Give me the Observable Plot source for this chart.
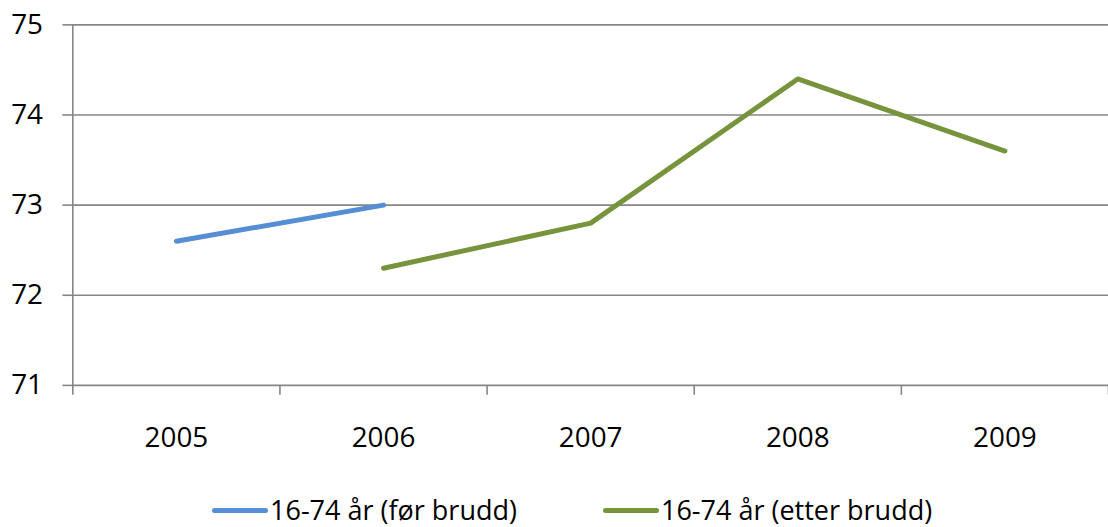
<!DOCTYPE html>
<html>
<head>
<meta charset="utf-8">
<script src="https://cdn.jsdelivr.net/npm/d3@7"></script>
<script src="https://cdn.jsdelivr.net/npm/@observablehq/plot@0.6"></script>
<style>
  html, body { margin: 0; padding: 0; background: #fff; }
  #wrap { width: 1108px; height: 527px; overflow: hidden; position: relative; font-family: "Open Sans", sans-serif; }
  #legend { position: absolute; left: 212px; top: 492px; display: flex; align-items: center; font-size: 27px; line-height: 36px; color: #000; }
  .item { display: flex; align-items: center; }
  .sw { width: 56px; height: 5px; border-radius: 3px; margin-right: 2px; }
</style>
</head>
<body>
<div id="wrap"><div id="chart"></div><div id="legend"></div></div>
<script>
const years = [2005, 2006, 2007, 2008, 2009];
const seriesNames = ["16-74 år (før brudd)", "16-74 år (etter brudd)"];
const seriesColors = ["#558ED5", "#77933C"];
const beforeYears = [2005, 2006];
const beforeValues = [72.6, 73.0];
const afterYears = [2006, 2007, 2008, 2009];
const afterValues = [72.3, 72.8, 74.4, 73.6];
const yTicks = [71, 72, 73, 74, 75];

const before = beforeYears.map((y, i) => ({year: y, value: beforeValues[i]}));
const after = afterYears.map((y, i) => ({year: y, value: afterValues[i]}));
const bounds = years.map(y => y - 0.5).concat([years[years.length - 1] + 0.5]);

const grid = "#868686";
const chart = Plot.plot({
  width: 1114,
  height: 470,
  marginLeft: 72.7,
  marginRight: 0,
  marginTop: 24.5,
  marginBottom: 83,
  style: {fontFamily: "Open Sans, sans-serif", fontSize: "28px", color: "#000", overflow: "visible"},
  x: {type: "linear", domain: [bounds[0], bounds[bounds.length - 1]], label: null},
  y: {domain: [71, 75], label: null},
  marks: [
    Plot.ruleY(yTicks, {x1: bounds[0], x2: bounds[bounds.length - 1], stroke: grid, strokeWidth: 1.6}),
    Plot.axisY({ticks: yTicks, tickSize: 10, tickPadding: 20, stroke: grid, strokeWidth: 1.6, tickFormat: d => String(d), fill: "#000", fontSize: 28, label: null}),
    Plot.ruleX([bounds[0]], {y1: 71, y2: 75, stroke: grid, strokeWidth: 1.6}),
    Plot.axisX({ticks: bounds, tickSize: 10, stroke: grid, strokeWidth: 1.6, tickFormat: () => "", label: null}),
    Plot.axisX({ticks: years, tickSize: 0, tickPadding: 42, tickFormat: d => String(d), fill: "#000", fontSize: 28, label: null}),
    Plot.line(before, {x: "year", y: "value", stroke: seriesColors[0], strokeWidth: 5, strokeLinecap: "round", strokeLinejoin: "round"}),
    Plot.line(after, {x: "year", y: "value", stroke: seriesColors[1], strokeWidth: 5, strokeLinecap: "round", strokeLinejoin: "round"})
  ]
});
document.getElementById("chart").appendChild(chart);

const legend = document.getElementById("legend");
seriesNames.forEach((name, i) => {
  const item = document.createElement("div");
  item.className = "item";
  if (i > 0) item.style.marginLeft = "86px";
  const sw = document.createElement("div");
  sw.className = "sw";
  sw.style.background = seriesColors[i];
  const t = document.createElement("span");
  t.textContent = name;
  item.appendChild(sw);
  item.appendChild(t);
  legend.appendChild(item);
});
</script>
</body>
</html>
